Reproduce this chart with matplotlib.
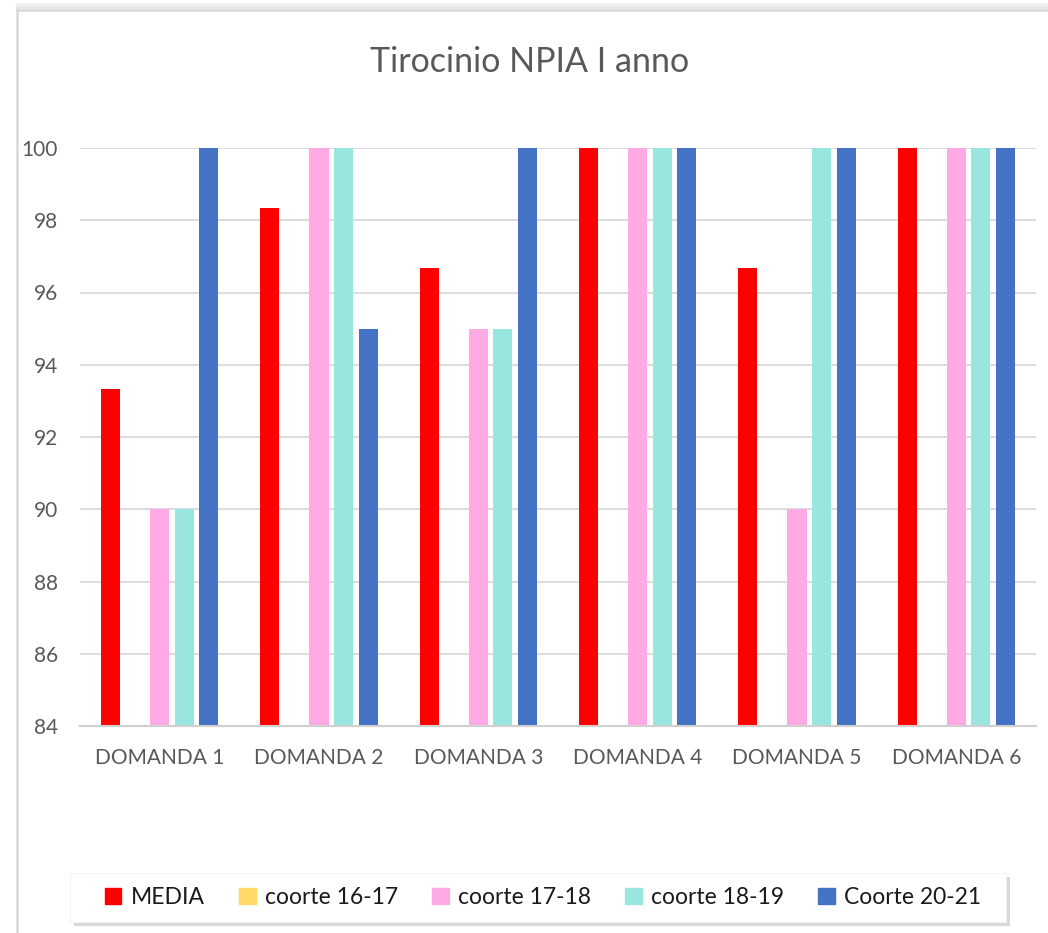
import matplotlib
matplotlib.use("Agg")
import matplotlib.pyplot as plt
import numpy as np
from matplotlib.patches import Rectangle

plt.rcParams['font.family'] = ['Lato', 'DejaVu Sans']

categories = ["DOMANDA 1", "DOMANDA 2", "DOMANDA 3", "DOMANDA 4", "DOMANDA 5", "DOMANDA 6"]
series_names = ["MEDIA", "coorte 16-17", "coorte 17-18", "coorte 18-19", "Coorte 20-21"]
media = [93.33, 98.33, 96.67, 100, 96.67, 100]
coorte_16_17 = [np.nan, np.nan, np.nan, np.nan, np.nan, np.nan]
coorte_17_18 = [90, 100, 95, 100, 90, 100]
coorte_18_19 = [90, 100, 95, 100, 100, 100]
coorte_20_21 = [100, 95, 100, 100, 100, 100]
colors = ["#FF0000", "#FFD966", "#FFAAE5", "#99E6DF", "#4472C4"]
yticks = [84, 86, 88, 90, 92, 94, 96, 98, 100]

W, H = 1048, 933
fig = plt.figure(figsize=(W / 100, H / 100), dpi=100)
fig.patch.set_facecolor("white")

# outer chart frame (left and top edges visible)
fig.add_artist(plt.Line2D([17 / W, 17 / W], [0, 1 - 10 / H], transform=fig.transFigure,
                          color="#d9d9d9", lw=1.8))
fig.add_artist(plt.Line2D([17 / W, 1], [1 - 10 / H, 1 - 10 / H], transform=fig.transFigure,
                          color="#d9d9d9", lw=1.8))
for k, c in enumerate(["#e6e6e6", "#eeeeee", "#f5f5f5"]):
    yy = 1 - (8 - 2 * k) / H
    fig.add_artist(plt.Line2D([17 / W, 1], [yy, yy], transform=fig.transFigure, color=c, lw=1.5))

left, right = 80 / W, 1036 / W
bottom, top = 1 - 726 / H, 1 - 148 / H
ax = fig.add_axes([left, bottom, right - left, top - bottom])

data = [media, coorte_16_17, coorte_17_18, coorte_18_19, coorte_20_21]
x = np.arange(len(categories))
step = 0.154
width = 0.12
handles = []
for i, (name, vals, col) in enumerate(zip(series_names, data, colors)):
    ax.bar(x + (i - 2) * step, vals, width, color=col, label=name, zorder=3, linewidth=0)
    handles.append(Rectangle((0, 0), 1, 1, color=col))

ax.set_ylim(84, 100)
ax.set_xlim(-0.5, len(categories) - 0.5)
ax.set_yticks(yticks)
ax.set_xticks(x)
ax.set_xticklabels(categories)
ax.yaxis.grid(True, color="#d9d9d9", lw=1.3, zorder=0)
ax.set_axisbelow(True)
for s in ["top", "right", "left"]:
    ax.spines[s].set_visible(False)
ax.spines["bottom"].set_color("#d0d0d0")
ax.spines["bottom"].set_linewidth(1.5)
ax.spines["bottom"].set_zorder(4)
ax.tick_params(axis="both", length=0, colors="#595959", labelsize=15)
ax.tick_params(axis="x", pad=16)
ax.tick_params(axis="y", pad=16)

fig.text(530 / W, 1 - 62 / H, "Tirocinio NPIA I anno", ha="center", va="center",
         fontsize=24.5, color="#595959")

# legend box with shadow
lx0, lx1 = 70 / W, 1006 / W
ly0, ly1 = 1 - 922 / H, 1 - 873 / H
fig.add_artist(Rectangle((lx0 + 4 / W, ly0 - 4 / H), lx1 - lx0, ly1 - ly0, transform=fig.transFigure,
                         facecolor="#bfbfbf", edgecolor="none", alpha=0.6, zorder=1))
fig.add_artist(Rectangle((lx0, ly0), lx1 - lx0, ly1 - ly0, transform=fig.transFigure,
                         facecolor="white", edgecolor="#f2f2f2", lw=0.8, zorder=2))
leg = fig.legend(handles, series_names, loc="center", bbox_to_anchor=((lx0 + lx1) / 2 + 5 / W, (ly0 + ly1) / 2),
                 ncol=5, frameon=False, fontsize=16.5, handlelength=0.72, handleheight=0.72,
                 handletextpad=0.4, columnspacing=1.5)
leg.set_zorder(3)
for t in leg.get_texts():
    t.set_color("#1a1a1a")

fig.savefig("out.png", dpi=100, facecolor="white")
